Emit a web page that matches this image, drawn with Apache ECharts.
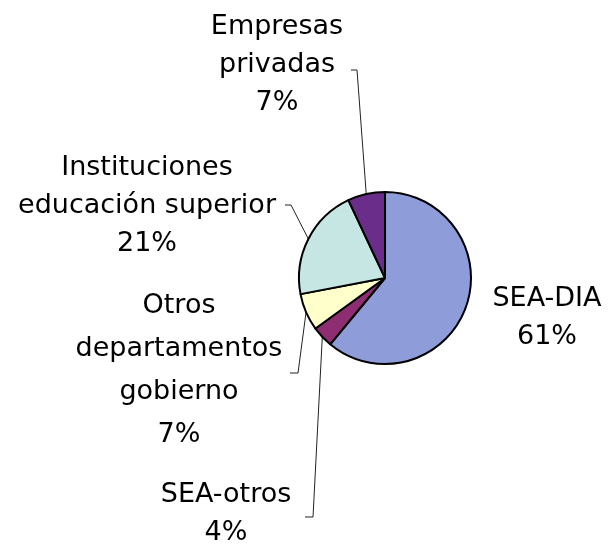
<!DOCTYPE html>
<html>
<head>
<meta charset="utf-8">
<script src="https://cdn.jsdelivr.net/npm/echarts@6/dist/echarts.min.js"></script>
<style>
  html, body { margin: 0; padding: 0; background: #fff; }
  #chart { width: 610px; height: 544px; }
</style>
</head>
<body>
<div id="chart"></div>
<script>
// data (clockwise from 12 o'clock)
var categories = ['SEA-DIA', 'SEA-otros', 'Otros\ndepartamentos\ngobierno', 'Instituciones\neducación superior', 'Empresas\nprivadas'];
var values = [61, 4, 7, 21, 7];
var colors = ['#8e9cd9', '#8e2d72', '#ffffcc', '#c6e6e3', '#6a2e8a'];

// where each label sits, and the elbow of its leader line
var labelPos = [
    { x: 547, y: 318, line: null },
    { x: 226, y: 514, line: [[313, 517], [305, 517]] },
    { x: 179, y: 370, line: [[298, 373], [290, 373]], lh: 43 },
    { x: 147, y: 206, line: [[291, 205], [285, 205]] },
    { x: 277, y: 65, line: [[357, 70], [351, 70]] }
];

var cx = 385, cy = 278, r = 86;
var total = values.reduce(function (a, b) { return a + b; }, 0);

function edgePoint(i) {
    var before = 0;
    for (var k = 0; k < i; k++) before += values[k];
    var mid = (before + values[i] / 2) / total * 2 * Math.PI;
    return [cx + r * Math.sin(mid), cy - r * Math.cos(mid)];
}

var chart = echarts.init(document.getElementById('chart'));

chart.setOption({
    animation: false,
    series: [{
        type: 'pie',
        center: [cx, cy],
        radius: r,
        startAngle: 90,
        clockwise: true,
        avoidLabelOverlap: false,
        itemStyle: {
            borderColor: '#000',
            borderWidth: 2
        },
        label: {
            formatter: '{b}\n{d}%',
            fontFamily: 'DejaVu Sans, sans-serif',
            fontSize: 27,
            lineHeight: 38,
            color: '#000',
            align: 'center'
        },
        labelLine: {
            show: true,
            lineStyle: { color: '#222', width: 1 }
        },
        labelLayout: function (params) {
            var p = labelPos[params.dataIndex];
            var out = { x: p.x, y: p.y, align: 'center', verticalAlign: 'middle' };
            if (p.line) {
                out.labelLinePoints = [edgePoint(params.dataIndex), p.line[0], p.line[1]];
            } else {
                out.labelLinePoints = [[p.x, p.y], [p.x, p.y], [p.x, p.y]];
            }
            return out;
        },
        data: categories.map(function (name, i) {
            var item = { name: name, value: values[i], itemStyle: { color: colors[i] } };
            if (labelPos[i].lh) item.label = { lineHeight: labelPos[i].lh };
            if (!labelPos[i].line) item.labelLine = { show: false };
            return item;
        })
    }]
});
</script>
</body>
</html>
